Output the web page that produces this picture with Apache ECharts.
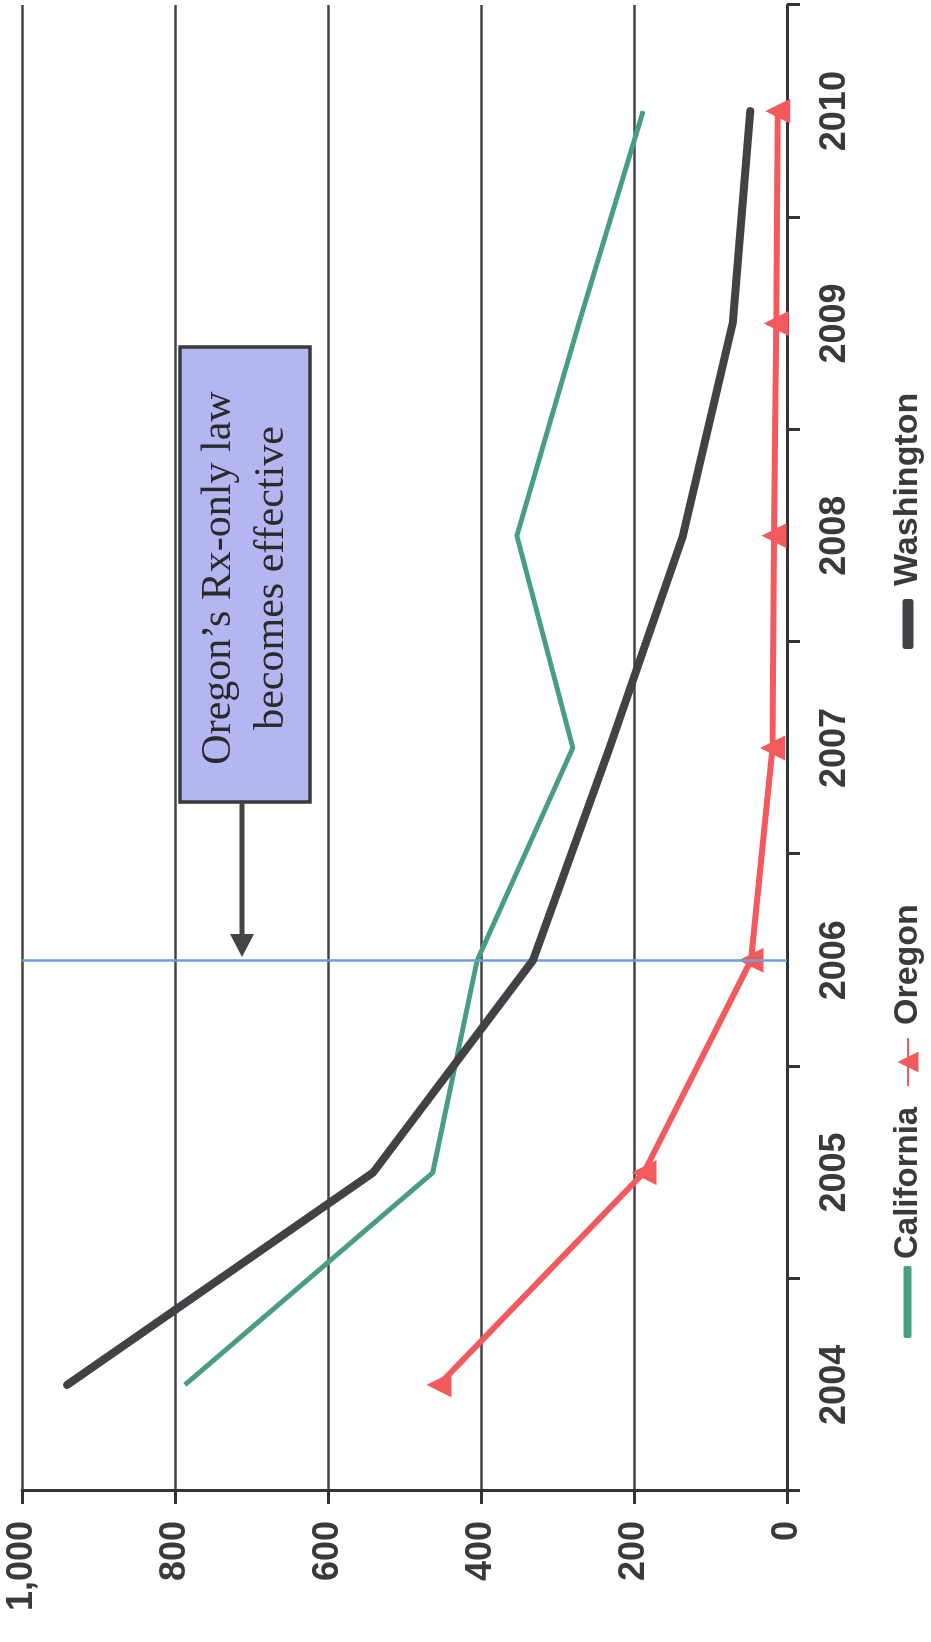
<!DOCTYPE html>
<html><head><meta charset="utf-8">
<script src="https://cdn.jsdelivr.net/npm/echarts@6/dist/echarts.min.js"></script>
<style>
html,body{margin:0;padding:0;width:931px;height:1642px;overflow:hidden;background:#fff;}
#chart{position:absolute;left:0;top:0;width:1642px;height:931px;transform-origin:0 0;transform:translateY(1642px) rotate(-90deg);}
</style></head><body><div id="chart"></div>
<script>
const years = ['2004','2005','2006','2007','2008','2009','2010'];
const california = [787, 463, 405, 280, 353, 272, 188];
const oregon = [455, 187, 47, 19, 17, 14, 12];
const washington = [941, 541, 332, 232, 136, 71, 48];
const lawYear = '2006';
const noteLines = ['Oregon’s Rx-only law', 'becomes effective'];

const chart = echarts.init(document.getElementById('chart'), null, {renderer: 'canvas'});
const axisFont = {fontFamily: 'Liberation Sans, Arial, sans-serif', fontSize: 36, fontWeight: 'bold', color: '#3a3a3a'};
const legendText = {fontFamily: 'Liberation Sans, Arial, sans-serif', fontSize: 34, fontWeight: 'bold', color: '#3a3a3a', padding: [0,0,0,8]};
const legendTextCal = Object.assign({}, legendText, {fontSize: 33, padding: [0,0,0,2]});
chart.setOption({
  animation: false,
  backgroundColor: '#fff',
  grid: {left: 151, right: 5, top: 22, bottom: 144},
  xAxis: {
    type: 'category', data: years, boundaryGap: true,
    axisLine: {lineStyle: {color: '#333', width: 3}},
    axisTick: {show: true, length: 13, lineStyle: {color: '#333', width: 3}},
    axisLabel: Object.assign({margin: 30}, axisFont),
    splitLine: {show: false}
  },
  yAxis: {
    type: 'value', min: 0, max: 1000, interval: 200,
    axisLine: {show: true, lineStyle: {color: '#333', width: 3}},
    axisTick: {show: true, length: 13, lineStyle: {color: '#333', width: 3}},
    axisLabel: Object.assign({margin: 30, formatter: v => v.toLocaleString('en-US')}, axisFont),
    splitLine: {show: true, lineStyle: {color: '#444', width: 2.5}}
  },
  legend: [
    {data: [{name: 'California', icon: 'roundRect'}], left: 299, top: 886, itemWidth: 72, itemHeight: 8, textStyle: legendTextCal},
    {data: ['Oregon'], left: 550, top: 886, itemWidth: 48, itemHeight: 26, textStyle: legendText},
    {data: [{name: 'Washington', icon: 'roundRect'}], left: 988, top: 886, itemWidth: 50, itemHeight: 11, textStyle: legendText}
  ],
  series: [
    {name: 'California', type: 'line', data: california, symbol: 'none',
     lineStyle: {color: '#4a9e80', width: 5}, itemStyle: {color: '#4a9e80'}, z: 3},
    {name: 'Oregon', type: 'line', data: oregon, symbol: 'triangle', symbolSize: 25,
     lineStyle: {color: '#f25a5e', width: 6}, itemStyle: {color: '#f25a5e'}, z: 4,
     markLine: {silent: true, symbol: 'none', label: {show: false},
       lineStyle: {color: '#6d9fd6', width: 2.5, type: 'solid'},
       data: [{xAxis: lawYear}]}},
    {name: 'Washington', type: 'line', data: washington, symbol: 'none',
     lineStyle: {color: '#414146', width: 8, cap: 'round'}, itemStyle: {color: '#414146'}, z: 5}
  ],
  graphic: [
    {type: 'rect', shape: {x: 840, y: 180, width: 455, height: 130},
     style: {fill: '#b4b6f2', stroke: '#3a3a3a', lineWidth: 3.5}, z: 10},
    {type: 'text', x: 1064, y: 219, style: {text: noteLines[0], font: '42px "Liberation Serif", "Times New Roman", serif', fill: '#2a2a2a', align: 'center', verticalAlign: 'middle'}, z: 11},
    {type: 'text', x: 1064, y: 272, style: {text: noteLines[1], font: '42px "Liberation Serif", "Times New Roman", serif', fill: '#2a2a2a', align: 'center', verticalAlign: 'middle'}, z: 11},
    {type: 'line', shape: {x1: 840, y1: 242, x2: 704, y2: 242}, style: {stroke: '#444', lineWidth: 5}, z: 10},
    {type: 'polygon', shape: {points: [[708, 230], [708, 254], [685, 242]]}, style: {fill: '#444'}, z: 10}
  ]
});
</script></body></html>
